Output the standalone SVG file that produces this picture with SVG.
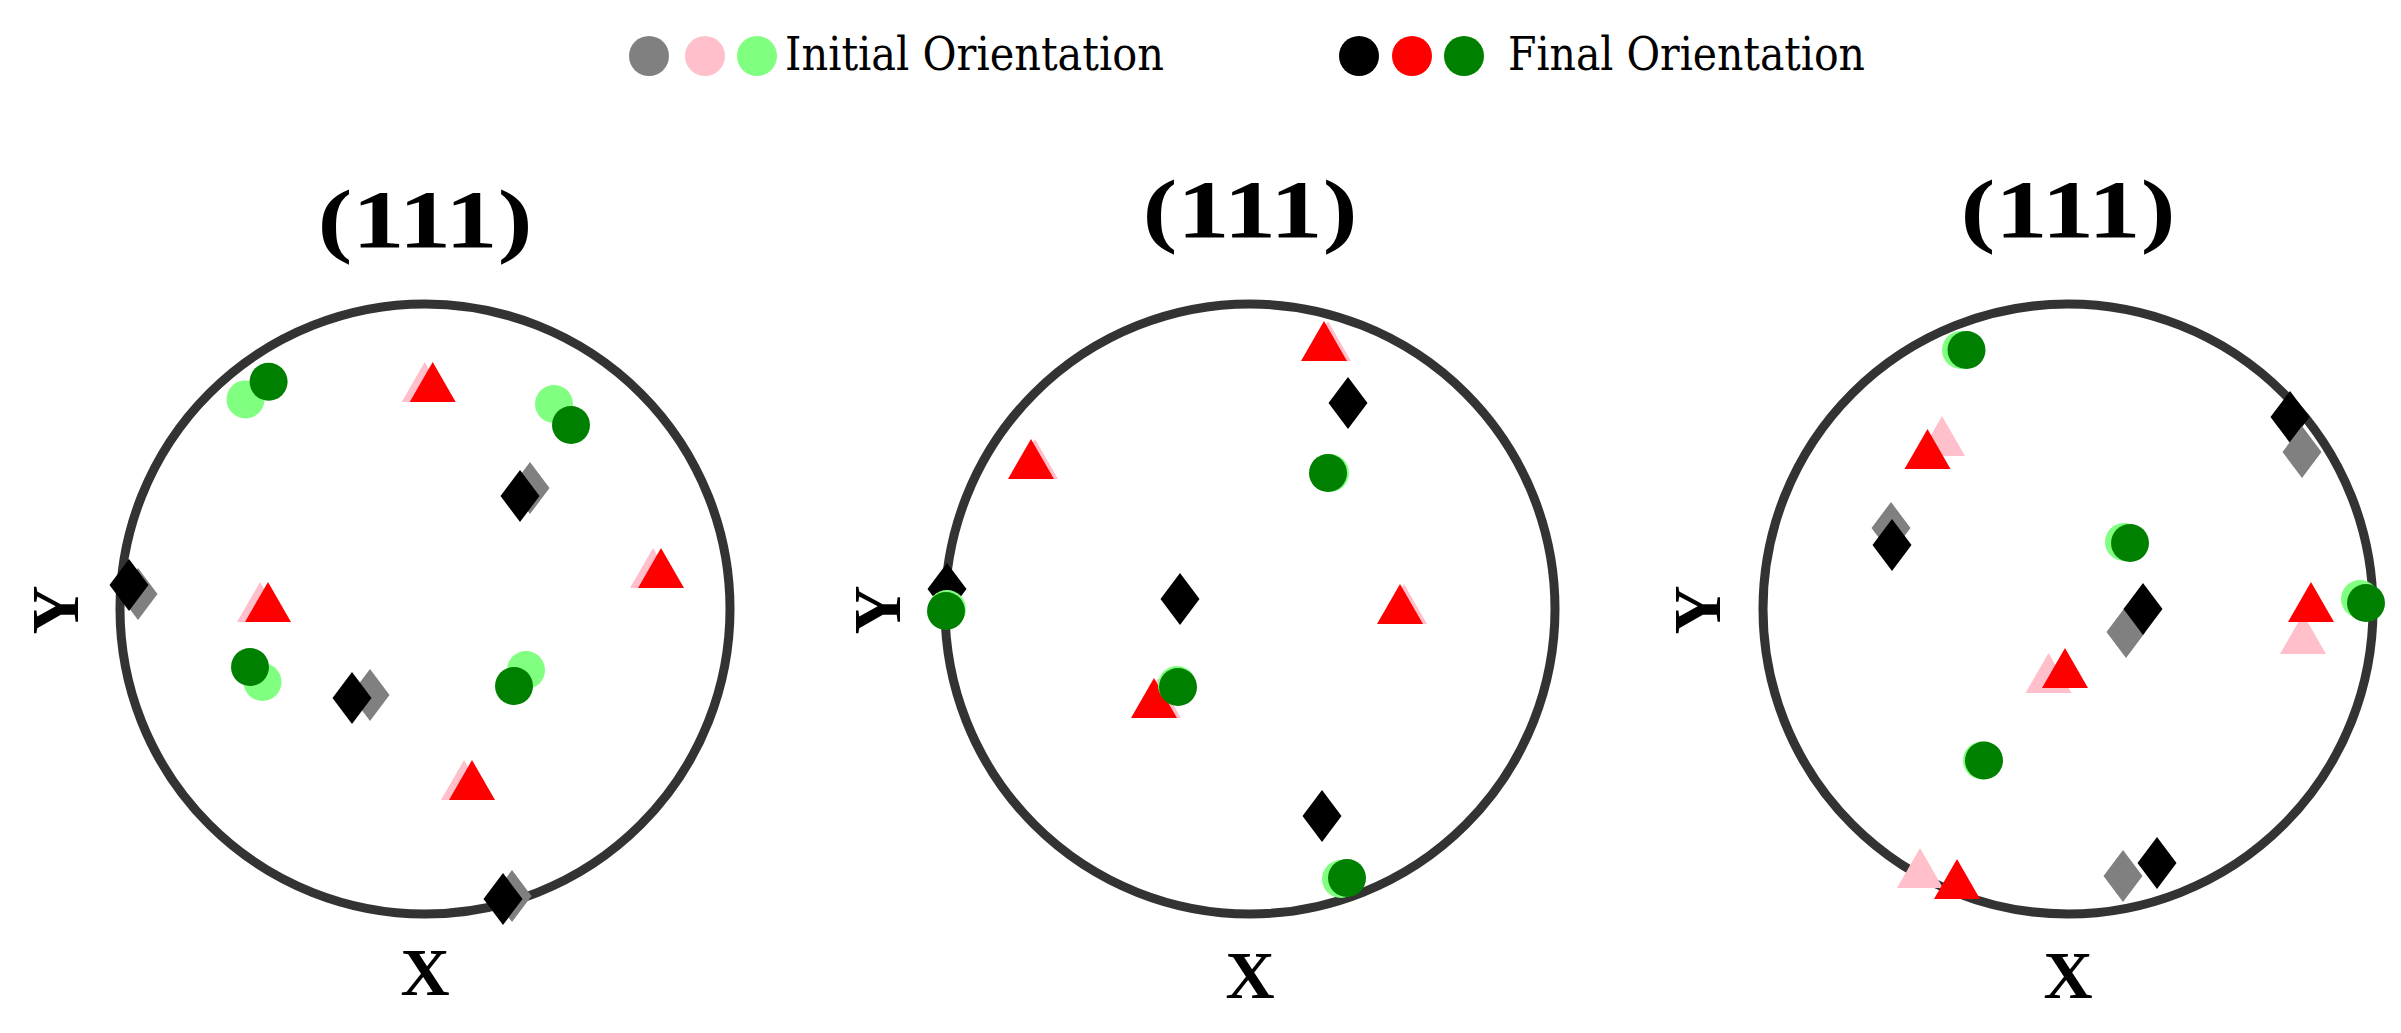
<svg xmlns="http://www.w3.org/2000/svg" width="2401" height="1033" viewBox="0 0 2401 1033">
<style>
.ring{fill:none;stroke:#333;stroke-width:9}
.t{font-family:"Liberation Serif",serif;font-weight:bold;fill:#000}
.lg{font-family:"DejaVu Serif",serif;font-stretch:condensed;font-size:46px;fill:#000}
.g0{fill:#808080}.k{fill:#000}.p{fill:#ffc0cb}.r{fill:#f00}.lgn{fill:#80ff80}.dg{fill:#008000}
</style>
<defs>
<path id="d" d="M0,-26L19.5,0L0,26L-19.5,0Z"/>
<path id="tr" d="M0,-20L23,20L-23,20Z"/>
<circle id="c" r="19"/>
</defs>
<g id="legend">
<circle cx="649" cy="56" r="20" class="g0"/><circle cx="705" cy="56" r="20" class="p"/><circle cx="757" cy="56" r="20" class="lgn"/>
<text x="785" y="70" class="lg" textLength="379" lengthAdjust="spacingAndGlyphs">Initial Orientation</text>
<circle cx="1359" cy="56" r="20" class="k"/><circle cx="1412" cy="56" r="20" class="r"/><circle cx="1464" cy="56" r="20" class="dg"/>
<text x="1508" y="70" class="lg" textLength="357" lengthAdjust="spacingAndGlyphs">Final Orientation</text>
</g>
<g id="panel1">
<text x="425" y="247" class="t" font-size="82" text-anchor="middle" textLength="215" lengthAdjust="spacingAndGlyphs">(111)</text>
<circle cx="425" cy="609" r="305" class="ring"/>
<text x="425" y="995" class="t" font-size="68" text-anchor="middle">X</text>
<text transform="translate(78,610) rotate(-90)" class="t" font-size="68" text-anchor="middle">Y</text>
<use href="#c" x="245.5" y="399.4" class="lgn"/><use href="#c" x="268.6" y="381.7" class="dg"/>
<use href="#tr" x="424.7" y="382" class="p"/><use href="#tr" x="432.7" y="382" class="r"/>
<use href="#c" x="554" y="404" class="lgn"/><use href="#c" x="571" y="425" class="dg"/>
<use href="#d" x="530" y="488" class="g0"/><use href="#d" x="520" y="496" class="k"/>
<use href="#tr" x="653" y="568" class="p"/><use href="#tr" x="661" y="568" class="r"/>
<use href="#d" x="138" y="594" class="g0"/><use href="#d" x="129" y="585" class="k"/>
<use href="#tr" x="260" y="602" class="p"/><use href="#tr" x="268" y="602" class="r"/>
<use href="#c" x="262.5" y="682" class="lgn"/><use href="#c" x="250" y="667" class="dg"/>
<use href="#d" x="370" y="695" class="g0"/><use href="#d" x="352" y="698" class="k"/>
<use href="#c" x="526" y="670" class="lgn"/><use href="#c" x="514" y="686" class="dg"/>
<use href="#tr" x="464" y="780" class="p"/><use href="#tr" x="472" y="780" class="r"/>
<use href="#d" x="512" y="896" class="g0"/><use href="#d" x="503" y="899" class="k"/>
</g>
<g id="panel2">
<text x="1250" y="237" class="t" font-size="82" text-anchor="middle" textLength="215" lengthAdjust="spacingAndGlyphs">(111)</text>
<circle cx="1250" cy="609" r="305" class="ring"/>
<text x="1250" y="998" class="t" font-size="68" text-anchor="middle">X</text>
<text transform="translate(900,610) rotate(-90)" class="t" font-size="68" text-anchor="middle">Y</text>
<use href="#tr" x="1328" y="341" class="p"/><use href="#tr" x="1324" y="341" class="r"/>
<use href="#d" x="1348" y="403" class="k"/>
<use href="#c" x="1330" y="473" class="lgn"/><use href="#c" x="1328" y="473" class="dg"/>
<use href="#tr" x="1035" y="459" class="p"/><use href="#tr" x="1031" y="459" class="r"/>
<use href="#d" x="947" y="589" class="k"/>
<use href="#c" x="947" y="609" class="lgn"/><use href="#c" x="946" y="611" class="dg"/>
<use href="#d" x="1180" y="599" class="k"/>
<use href="#tr" x="1404" y="604" class="p"/><use href="#tr" x="1400" y="604" class="r"/>
<use href="#tr" x="1158" y="698" class="p"/><use href="#tr" x="1154" y="698" class="r"/>
<use href="#c" x="1177" y="685" class="lgn"/><use href="#c" x="1178" y="687" class="dg"/>
<use href="#d" x="1322" y="816" class="k"/>
<use href="#c" x="1341" y="879" class="lgn"/><use href="#c" x="1347" y="878" class="dg"/>
</g>
<g id="panel3">
<text x="2068" y="237" class="t" font-size="82" text-anchor="middle" textLength="215" lengthAdjust="spacingAndGlyphs">(111)</text>
<circle cx="2068" cy="609" r="305" class="ring"/>
<text x="2068" y="998" class="t" font-size="68" text-anchor="middle">X</text>
<text transform="translate(1720,610) rotate(-90)" class="t" font-size="68" text-anchor="middle">Y</text>
<use href="#c" x="1961" y="350" class="lgn"/><use href="#c" x="1966.5" y="350" class="dg"/>
<use href="#tr" x="1942" y="436" class="p"/><use href="#tr" x="1927.5" y="449" class="r"/>
<use href="#d" x="1891" y="528" class="g0"/><use href="#d" x="1892" y="545" class="k"/>
<use href="#c" x="2124" y="542" class="lgn"/><use href="#c" x="2130" y="543" class="dg"/>
<use href="#d" x="2126" y="632" class="g0"/><use href="#d" x="2143" y="609" class="k"/>
<use href="#d" x="2290" y="417" class="k"/><use href="#d" x="2302" y="452" class="g0"/>
<use href="#tr" x="2303" y="634" class="p"/><use href="#tr" x="2311" y="602" class="r"/>
<use href="#c" x="2360" y="599" class="lgn"/><use href="#c" x="2366" y="603" class="dg"/>
<use href="#tr" x="2048.5" y="673" class="p"/><use href="#tr" x="2065" y="668" class="r"/>
<use href="#c" x="1982" y="760.5" class="lgn"/><use href="#c" x="1984" y="760.5" class="dg"/>
<use href="#tr" x="1920" y="868" class="p"/><use href="#tr" x="1957" y="879" class="r"/>
<use href="#d" x="2123" y="876" class="g0"/><use href="#d" x="2157" y="863" class="k"/>
</g>
</svg>
